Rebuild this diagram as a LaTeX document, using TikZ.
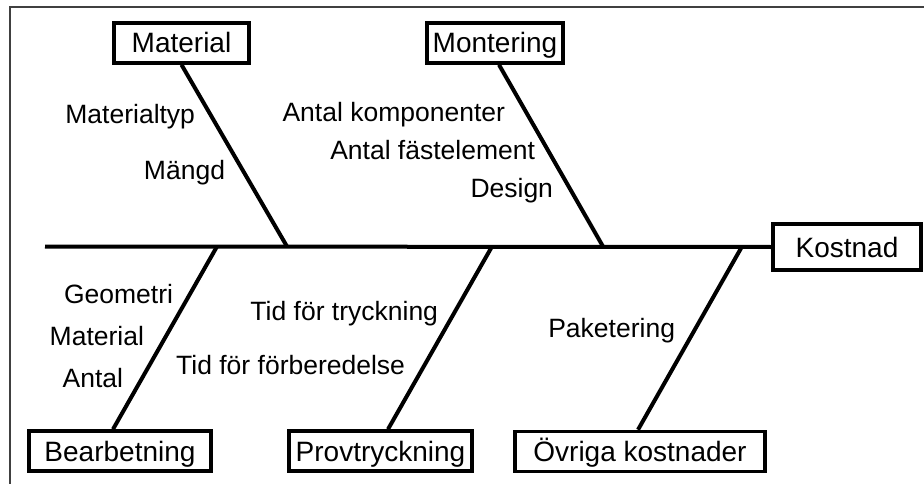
\documentclass[tikz,border=0pt]{standalone}
\usepackage{fontspec}
\setmainfont{Liberation Sans}
\usetikzlibrary{positioning}

\begin{document}
\begin{tikzpicture}[x=1pt,y=-1pt,line width=4pt,
  cause/.style={draw,line width=3.5pt,inner sep=0pt,minimum height=40pt,text height=26pt,text depth=6pt,font=\fontsize{28}{32}\selectfont},
  item/.style={anchor=base east,inner sep=0pt,font=\fontsize{26.5}{30}\selectfont}]
\useasboundingbox (0,0) rectangle (924,484);
\draw[line width=1.6pt,black!75] (10,484) -- (10,7) -- (924,7);

% effect and spine
\node[cause,minimum width=148pt,minimum height=46pt] (kost) at (847,247) {Kostnad};
\coordinate (tail) at (45,246.5);
\draw (tail) -- (kost.west);
\coordinate (jmat) at (287,246.5);
\coordinate (jmon) at (603,246.5);
\coordinate (jbea) at (217,246.5);
\coordinate (jpro) at (492,246.5);
\coordinate (jovr) at (742,246.5);

% causes
\node[cause,minimum width=135pt] (mat) at (181.5,43) {Material};
\node[cause,minimum width=136pt] (mon) at (495,43) {Montering};
\node[cause,minimum width=182pt] (bea) at (120,451) {Bearbetning};
\node[cause,minimum width=183pt] (pro) at (380.5,451) {Provtryckning};
\node[cause,minimum width=250pt] (ovr) at (640,451.5) {Övriga kostnader};
\draw (mat.south) -- (jmat);
\draw ([xshift=4pt]mon.south) -- (jmon);
\draw ([xshift=-7pt]bea.north) -- (jbea);
\draw ([xshift=7.5pt]pro.north) -- (jpro);
\draw ([xshift=-2pt]ovr.north) -- (jovr);

% sub causes
\node[item] (mtyp) at (197,124) {Materialtyp};
\node[item] (mgd) at (227,179) {Mängd};
\node[item] (akomp) at (507,122) {Antal komponenter};
\node[item] (afast) at (537,160) {Antal fästelement};
\node[item] (des) at (555,197) {Design};
\node[item] (geo) at (175,303) {Geometri};
\node[item] (bmat) at (146,345) {Material};
\node[item] (bant) at (125,387) {Antal};
\node[item] (tryck) at (440,320) {Tid för tryckning};
\node[item] (forb) at (407,374) {Tid för förberedelse};
\node[item] (pak) at (677,337) {Paketering};
\end{tikzpicture}
\end{document}
